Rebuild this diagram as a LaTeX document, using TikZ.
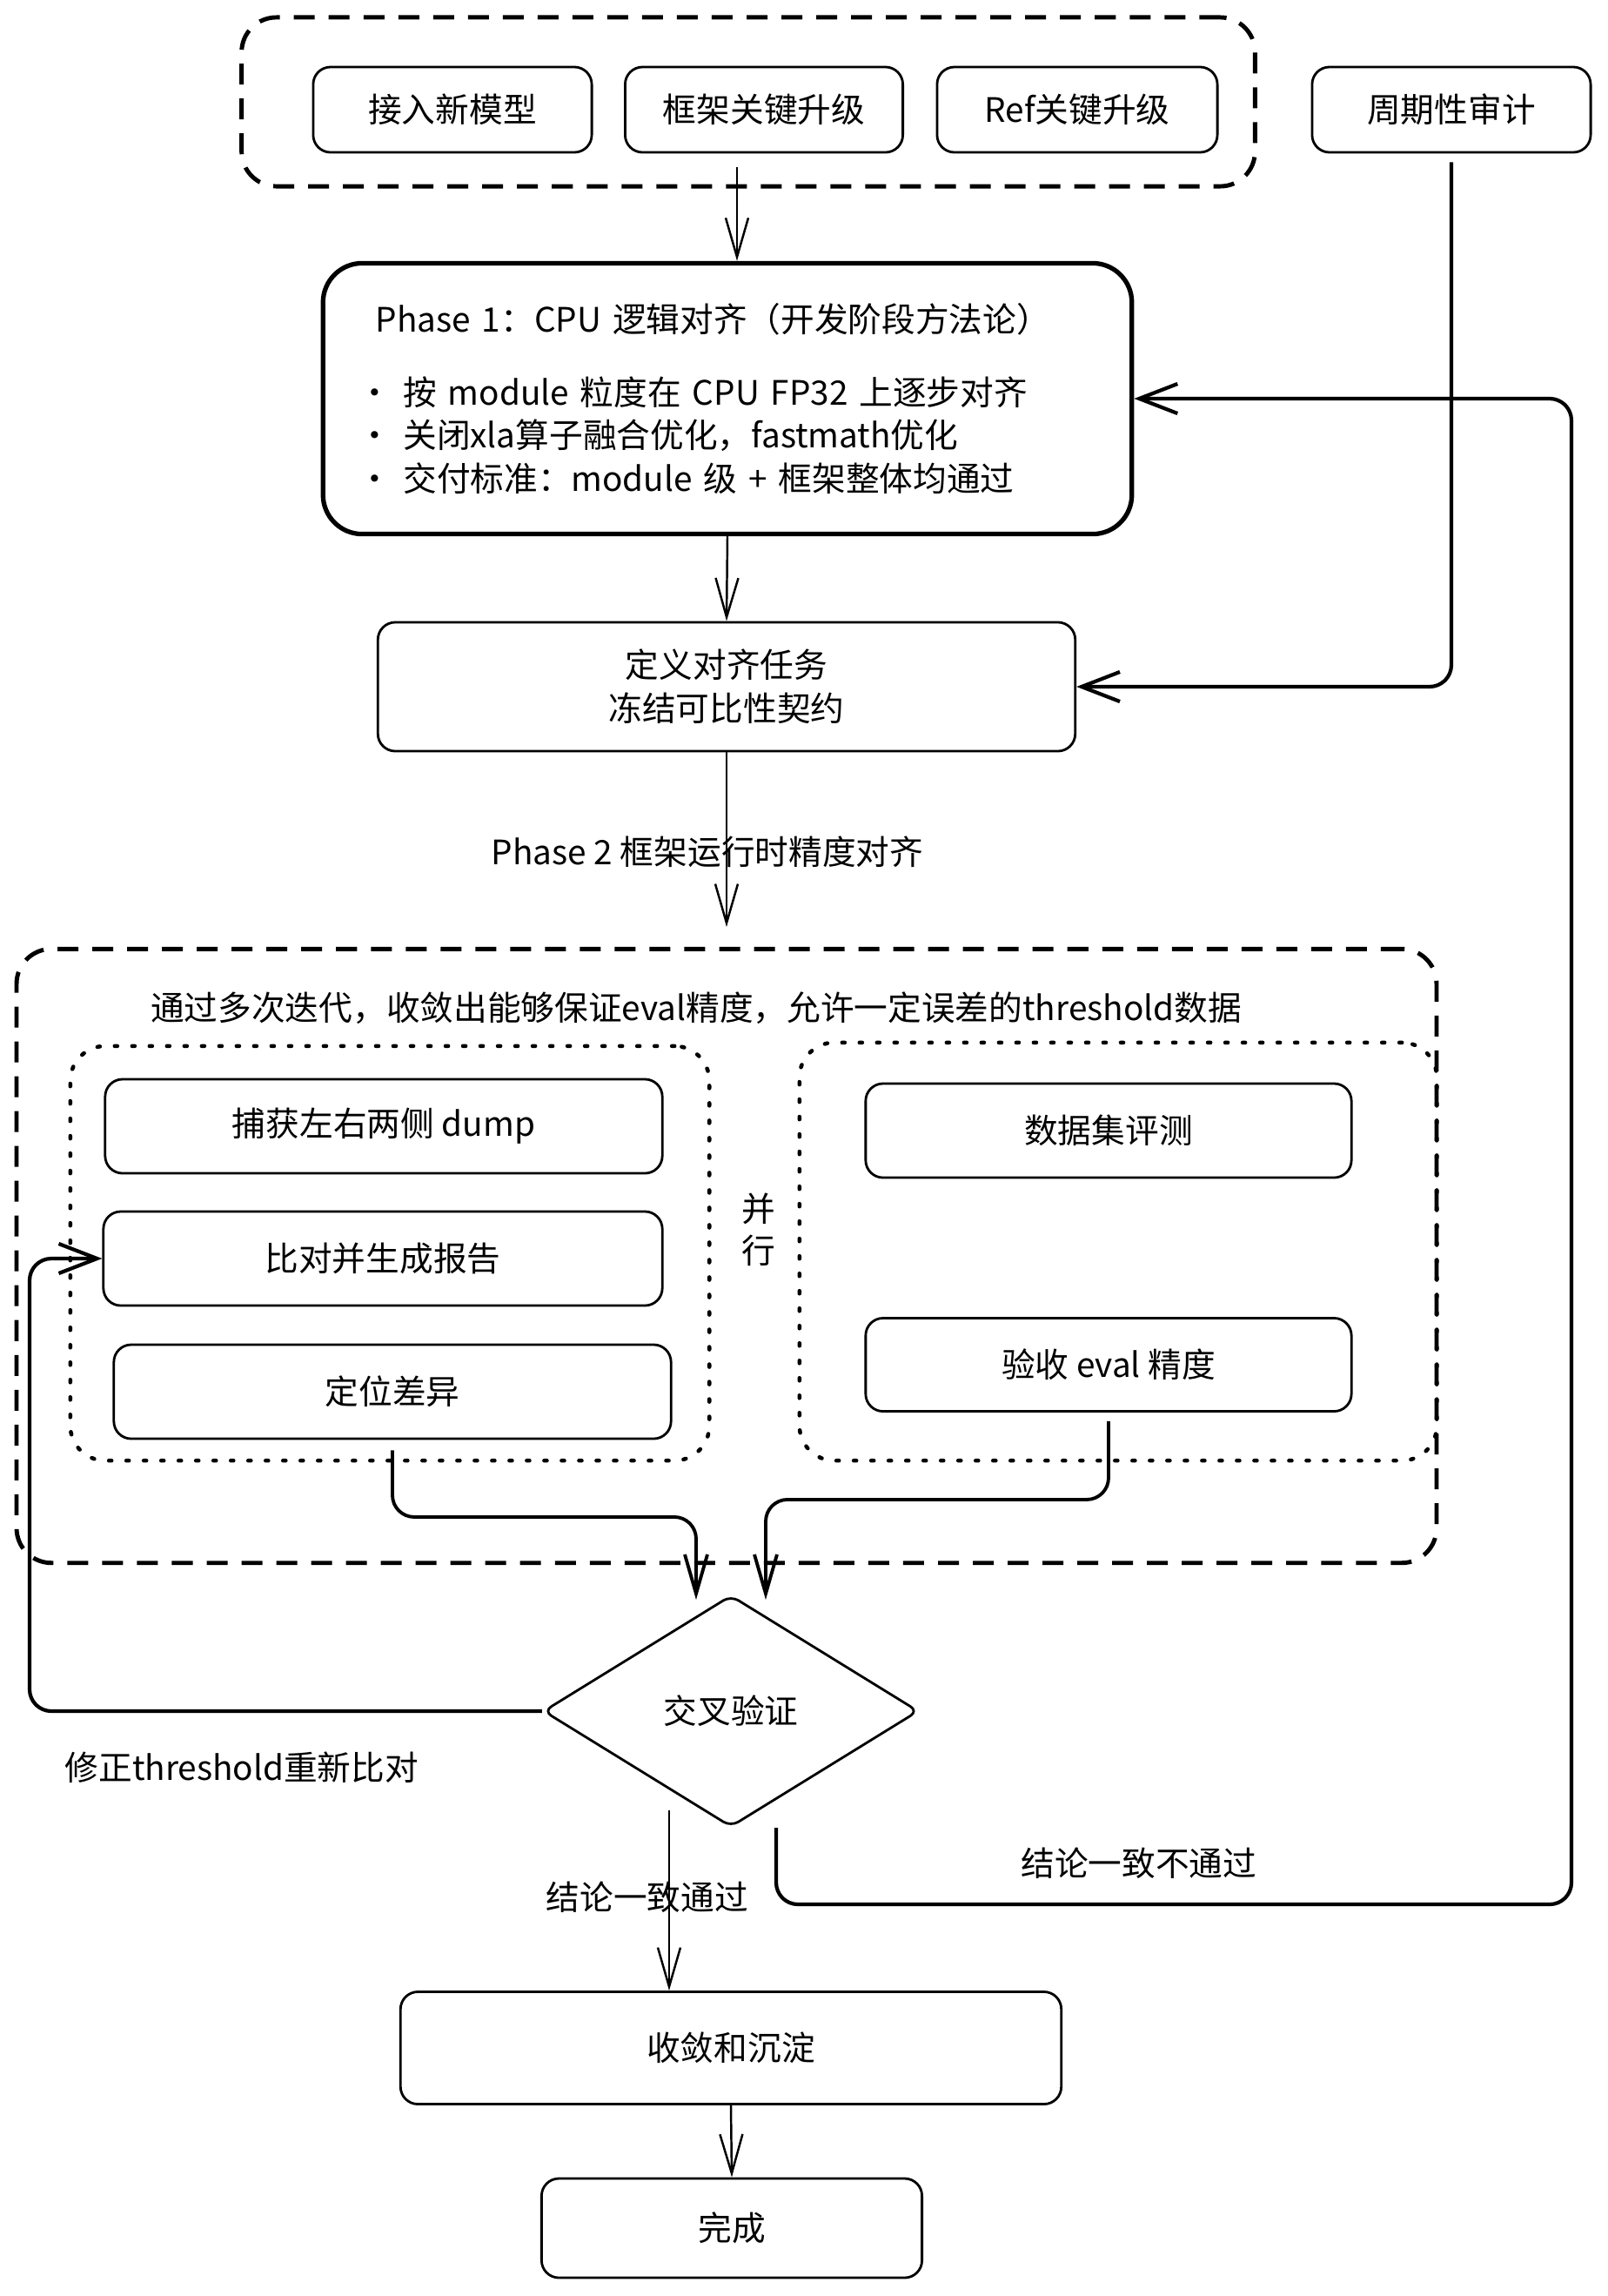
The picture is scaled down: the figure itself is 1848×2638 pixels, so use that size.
\documentclass[tikz,border=0pt]{standalone}
\usepackage{fontspec}
\setmainfont{Noto Sans CJK SC}
\usetikzlibrary{arrows.meta,shapes.geometric}

\begin{document}
\begin{tikzpicture}[
        x=0.01cm, y=-0.01cm,
        font=\fontsize{11}{14.2}\selectfont,
        box/.style={rectangle, draw, rounded corners=2mm, line width=0.8pt,
                    align=center, inner sep=0pt},
        phasebox/.style={box, rounded corners=4.5mm, line width=1.5pt},
        grpdash/.style={rectangle, draw, rounded corners=4mm, line width=1.4pt,
                        dash pattern=on 2.4mm off 1.6mm},
        grpdot/.style={rectangle, draw, rounded corners=4mm, line width=1.3pt,
                       dash pattern=on 0.3mm off 1.7mm, line cap=round},
        decision/.style={diamond, draw, line width=0.8pt, rounded corners=1mm,
                         inner sep=0pt, minimum width=4.31cm, minimum height=2.66cm},
        lbl/.style={inner sep=0pt},
        arrow/.style={-{Straight Barb[length=4.5mm,width=2.6mm]}, line width=0.7pt},
        fbarrow/.style={-{Straight Barb[length=4.4mm,width=3.4mm]}, line width=1.2pt,
                        rounded corners=2.5mm}
    ]
    \useasboundingbox (0,0) rectangle (1848,2638);

    %触发条件
    \node[grpdash, minimum width=11.64cm, minimum height=1.94cm] (grpTop) at (860,117) {};
    \node[box, minimum width=3.20cm, minimum height=0.98cm] (inp1) at (520,126) {接入新模型};
    \node[box, minimum width=3.19cm, minimum height=0.98cm] (inp2) at (878,126) {框架关键升级};
    \node[box, minimum width=3.22cm, minimum height=0.98cm] (inp3) at (1238,126) {Ref关键升级};
    \node[box, minimum width=3.20cm, minimum height=0.98cm] (audit) at (1668,126) {周期性审计};

    % Phase 1
    \node[phasebox, minimum width=9.29cm, minimum height=3.11cm, text width=8.48cm, align=left] (p1) at (836,458)
        {\hspace*{0.2cm}Phase 1：CPU 逻辑对齐（开发阶段方法论）\\[0.34cm]
         · 按 module 粒度在 CPU FP32 上逐步对齐\\
         · 关闭xla算子融合优化，fastmath优化\\
         · 交付标准：module 级 + 框架整体均通过};
    \node[box, minimum width=8.01cm, minimum height=1.48cm] (def) at (835,789)
        {定义对齐任务\\冻结可比性契约};

    % Phase 2
    \node[grpdash, minimum width=16.31cm, minimum height=7.05cm] (grpBig) at (835,1443) {};
    \node[lbl] (iterTitle) at (800,1158)
        {通过多次迭代，收敛出能够保证eval精度，允许一定误差的threshold数据};
    \node[grpdot, minimum width=7.34cm, minimum height=4.76cm] (grpL) at (448,1440) {};
    \node[grpdot, minimum width=7.32cm, minimum height=4.80cm] (grpR) at (1285,1438) {};
    \node[box, minimum width=6.40cm, minimum height=1.08cm] (cap) at (441,1294) {捕获左右两侧 dump};
    \node[box, minimum width=6.42cm, minimum height=1.08cm] (cmp) at (440,1446) {比对并生成报告};
    \node[box, minimum width=6.40cm, minimum height=1.08cm] (loc) at (451,1599) {定位差异};
    \node[box, minimum width=5.58cm, minimum height=1.08cm] (eva) at (1274,1299) {数据集评测};
    \node[box, minimum width=5.58cm, minimum height=1.07cm] (acc) at (1274,1568) {验收 eval 精度};
    \node[lbl, align=center, font=\fontsize{11}{13.6}\selectfont] (par) at (872,1413) {并\\行};

    % 判定与收尾
    \node[decision] (dec) at (840,1966) {交叉验证};
    \node[box, minimum width=7.59cm, minimum height=1.29cm] (conv) at (840,2353) {收敛和沉淀};
    \node[box, minimum width=4.37cm, minimum height=1.14cm] (done) at (841,2560) {完成};

    \coordinate (topOut) at (847,192);
    \coordinate (p2End) at (835,1065);
    \coordinate (inL) at (800,1838);
    \coordinate (inR) at (880,1838);
    \coordinate (loopL) at (34,1966);
    \coordinate (loopR) at (1806,2188);
    \coordinate (failOut) at (892,2100);
    \coordinate (passOut) at (769,2080);

    % 主流程
    \draw[arrow] (topOut) -- (topOut |- p1.north);
    \draw[arrow] (p1.south) -- (def.north);
    \draw[arrow] (def.south) -- node[lbl, pos=0.57, xshift=-0.22cm] {Phase 2 框架运行时精度对齐} (p2End);
    \draw[fbarrow] (audit.south) ++(0,10) |- (def.east);

    % 汇入交叉验证
    \draw[arrow, line width=1.1pt, rounded corners=2.5mm] (loc.south) ++(0,12) |- ([yshift=0.95cm]inL) -- (inL);
    \draw[arrow, line width=1.1pt, rounded corners=2.5mm] (acc.south) ++(0,10) |- ([yshift=1.15cm]inR) -- (inR);

    % 分支
    \draw[fbarrow] (dec.west) -- node[lbl, pos=0.586, below=0.45cm] {修正threshold重新比对} (loopL) |- (cmp.west);
    \draw[fbarrow] (failOut) |- node[lbl, pos=0.728, above=0.27cm] {结论一致不通过} (loopR) |- (p1.east);
    \draw[arrow] (passOut) -- node[lbl, pos=0.48, xshift=-0.25cm] {结论一致通过} (passOut |- conv.north);
    \draw[arrow] (conv.south) -- (done.north);

\end{tikzpicture}
\end{document}
